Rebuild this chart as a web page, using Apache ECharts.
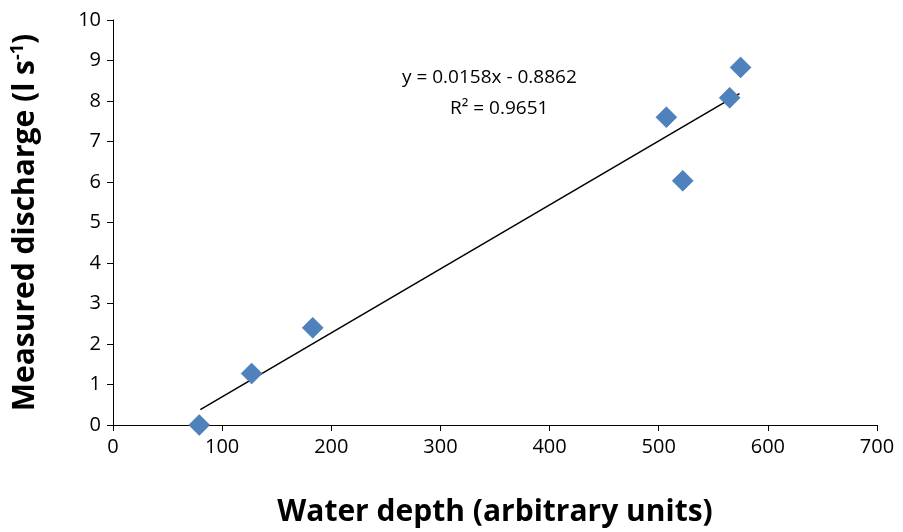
<!DOCTYPE html>
<html><head><meta charset="utf-8">
<script src="https://cdn.jsdelivr.net/npm/echarts@6/dist/echarts.min.js"></script>
<style>html,body{margin:0;background:#fff}#c{width:903px;height:532px}</style>
</head><body><div id="c"></div>
<script>
const depth = [79, 127, 183, 507, 522, 565, 575];
const discharge = [0, 1.27, 2.4, 7.6, 6.03, 8.08, 8.83];
const slope = 0.0158, intercept = -0.8862;
const trendX = [80, 574];
const xTicks = [0,100,200,300,400,500,600,700];
const ff = '"Open Sans", "Liberation Sans", sans-serif';
const chart = echarts.init(document.getElementById('c'));
chart.setOption({
  animation:false,
  grid:{left:113,right:26,top:20,bottom:104},
  xAxis:{type:'value',min:0,max:700,interval:100,
    name:'Water depth (arbitrary units)',nameLocation:'middle',nameGap:72,
    nameTextStyle:{fontFamily:ff,fontWeight:'bold',fontSize:30,color:'#000'},
    axisLine:{lineStyle:{color:'#000'}},axisTick:{show:true,length:6,lineStyle:{color:'#000'}},
    axisLabel:{fontFamily:ff,fontSize:20,color:'#000',margin:12},splitLine:{show:false}},
  yAxis:{type:'value',min:0,max:10,interval:1,
    name:'{a|Measured discharge (l s}{s|-1}{a|)}',nameLocation:'middle',nameGap:72,
    nameTextStyle:{rich:{a:{fontFamily:ff,fontWeight:'bold',fontSize:30,color:'#000'},
      s:{fontFamily:ff,fontWeight:'bold',fontSize:18,color:'#000',verticalAlign:'top',padding:[0,0,14,0]}}},
    axisLine:{show:true,lineStyle:{color:'#000'}},axisTick:{show:true,length:6,lineStyle:{color:'#000'}},
    axisLabel:{fontFamily:ff,fontSize:20,color:'#000',margin:12},splitLine:{show:false}},
  series:[
    {type:'line',data:trendX.map(x=>[x,slope*x+intercept]),symbol:'none',
     lineStyle:{color:'#000',width:1.5},z:1},
    {type:'scatter',data:depth.map((d,i)=>[d,discharge[i]]),symbol:'diamond',symbolSize:21,
     itemStyle:{color:'#4F81BD',opacity:1,borderColor:'#3f6fa8',borderWidth:0.5},z:2}
  ],
  graphic:[
    {type:'text',left:402,top:68,style:{text:'y = 0.0158x - 0.8862',fontFamily:ff,fontSize:19,fill:'#000'}},
    {type:'text',left:450,top:99,style:{text:'R² = 0.9651',fontFamily:ff,fontSize:19,fill:'#000'}}
  ]
});
</script></body></html>
